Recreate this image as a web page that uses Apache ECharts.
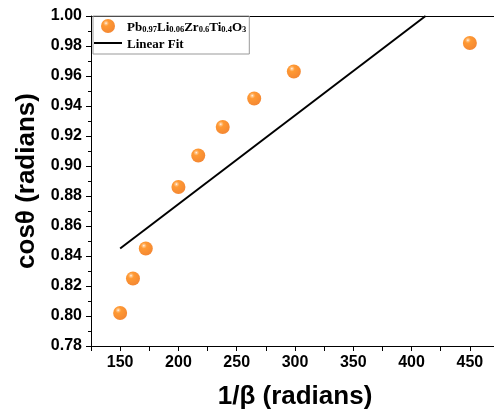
<!DOCTYPE html>
<html><head><meta charset="utf-8">
<script src="https://cdn.jsdelivr.net/npm/echarts@6/dist/echarts.min.js"></script>
<style>html,body{margin:0;padding:0;background:#fff}#c{width:494px;height:410px}</style>
</head><body><div id="c"></div>
<script>
const invBeta = [150, 161, 172, 200, 217, 238, 265, 299, 450];
const cosTheta = [0.802, 0.825, 0.845, 0.886, 0.907, 0.926, 0.945, 0.963, 0.982];
const fitX = [150, 412];
const fitY = [0.845, 1.0];
const yTicks = [0.78, 1.00];
const xRange = [125, 475];
const seriesNames = ['Pb0.97Li0.06Zr0.6Ti0.4O3', 'Linear Fit'];

const chart = echarts.init(document.getElementById('c'));
const sphere = new echarts.graphic.RadialGradient(0.36, 0.3, 0.75, [
  {offset: 0, color: '#ffffff'},
  {offset: 0.1, color: '#ffb870'},
  {offset: 0.28, color: '#ff8000'},
  {offset: 1, color: '#f06800'}
]);
const font = 'Arial, "Liberation Sans", sans-serif';
const serif = '"Liberation Serif", "Times New Roman", serif';
chart.setOption({
  animation: false,
  grid: {left: 91, top: 16, width: 408, height: 330, show: false, outerBoundsMode: 'none', containLabel: false},
  legend: {
    left: 93, top: 16, orient: 'vertical', itemGap: 4,
    borderColor: '#999', borderWidth: 1, borderRadius: 0, padding: [3, 3, 3, 1],
    itemWidth: 28, itemHeight: 14,
    data: [{name: seriesNames[0]}, {name: seriesNames[1], icon: 'path://M0,0L30,0L30,2.2L0,2.2Z'}],
    formatter: function (n) {
      if (n === seriesNames[1]) return '{a|Linear Fit}';
      return '{a|Pb}{s|0.97}{a|Li}{s|0.06}{a|Zr}{s|0.6}{a|Ti}{s|0.4}{a|O}{s|3}';
    },
    textStyle: {
      rich: {
        a: {fontFamily: serif, fontWeight: 'bold', fontSize: 13, color: '#000', lineHeight: 16, verticalAlign: 'bottom'},
        s: {fontFamily: serif, fontWeight: 'bold', fontSize: 8.5, color: '#000', lineHeight: 13, verticalAlign: 'bottom'}
      }
    }
  },
  xAxis: [{
    type: 'value', min: xRange[0], max: xRange[1], interval: 25,
    name: '1/β (radians)', nameLocation: 'middle', nameGap: 38,
    nameTextStyle: {fontFamily: font, fontWeight: 'bold', fontSize: 26, color: '#000'},
    axisLine: {lineStyle: {color: '#000', width: 1}},
    axisTick: {show: true, length: 5, lineStyle: {color: '#000'}},
    axisLabel: {fontFamily: font, fontWeight: 'bold', fontSize: 16, color: '#000', margin: 9,
      formatter: v => (v % 50 === 0 ? String(v) : '')},
    splitLine: {show: false}
  }, {
    type: 'value', position: 'top', min: xRange[0], max: xRange[1],
    axisLine: {show: true, onZero: false, lineStyle: {color: '#000', width: 1}},
    axisTick: {show: false}, axisLabel: {show: false}, splitLine: {show: false}
  }],
  yAxis: {
    type: 'value', min: yTicks[0], max: yTicks[1], interval: 0.02,
    name: 'cosθ (radians)', nameLocation: 'middle', nameGap: 50,
    nameTextStyle: {fontFamily: font, fontWeight: 'bold', fontSize: 26, color: '#000'},
    axisLine: {lineStyle: {color: '#000', width: 1}},
    axisTick: {show: true, length: 5, lineStyle: {color: '#000'}},
    minorTick: {show: true, splitNumber: 2, length: 3, lineStyle: {color: '#000'}},
    axisLabel: {fontFamily: font, fontWeight: 'bold', fontSize: 16, color: '#000', margin: 9,
      formatter: v => v.toFixed(2)},
    splitLine: {show: false}
  },
  series: [
    {
      name: seriesNames[0], type: 'scatter', symbol: 'circle', symbolSize: 14,
      itemStyle: {color: sphere},
      data: invBeta.map((x, i) => [x, cosTheta[i]]), z: 3
    },
    {
      name: seriesNames[1], type: 'line', symbol: 'none', clip: true,
      lineStyle: {color: '#000', width: 2}, itemStyle: {color: '#000'},
      data: fitX.map((x, i) => [x, fitY[i]])
    }
  ]
});
</script></body></html>
